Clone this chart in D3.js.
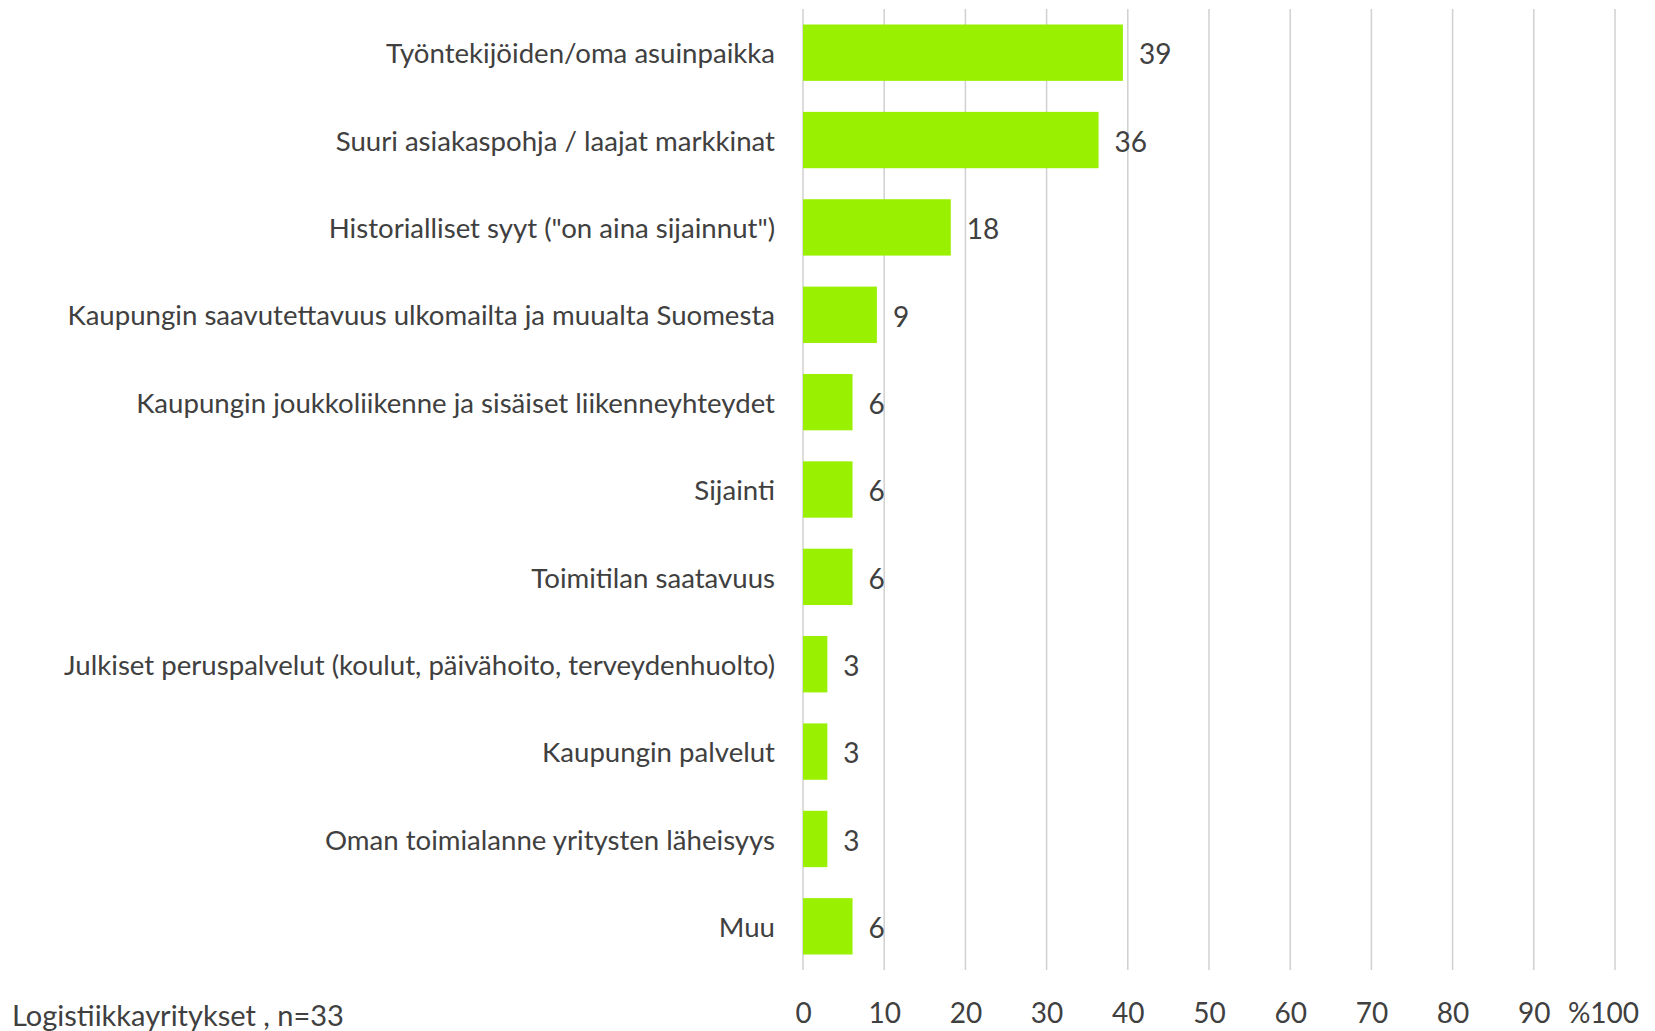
<!DOCTYPE html>
<html><head><meta charset="utf-8">
<script src="https://cdn.jsdelivr.net/npm/d3@7"></script>
<style>html,body{margin:0;padding:0;background:#fff;}svg{display:block;}</style>
</head><body>
<svg id="chart" width="1655" height="1031"></svg>
<script>
const categories = [
  "Työntekijöiden/oma asuinpaikka",
  "Suuri asiakaspohja / laajat markkinat",
  "Historialliset syyt (\"on aina sijainnut\")",
  "Kaupungin saavutettavuus ulkomailta ja muualta Suomesta",
  "Kaupungin joukkoliikenne ja sisäiset liikenneyhteydet",
  "Sijainti",
  "Toimitilan saatavuus",
  "Julkiset peruspalvelut (koulut, päivähoito, terveydenhuolto)",
  "Kaupungin palvelut",
  "Oman toimialanne yritysten läheisyys",
  "Muu"
];
const values = [39.4, 36.4, 18.2, 9.1, 6.1, 6.1, 6.1, 3.0, 3.0, 3.0, 6.1];
const valueLabels = ["39","36","18","9","6","6","6","3","3","3","6"];
const tickValues = [0,10,20,30,40,50,60,70,80,90,100];
const tickLabels = ["0","10","20","30","40","50","60","70","80","90","%100"];
const footnote = "Logistiikkayritykset , n=33";

const svg = d3.select("#chart");
const font = "Lato, 'Open Sans', sans-serif";
const textColor = "#404040";

const x = d3.scaleLinear().domain([0,100]).range([803,1615]);
const y = d3.scaleBand().domain(categories).range([9,970]).paddingInner(0.355).paddingOuter(0.1775);

// gridlines
svg.append("g").selectAll("line").data(tickValues).join("line")
  .attr("x1", d=>x(d)).attr("x2", d=>x(d))
  .attr("y1", 9).attr("y2", 970)
  .attr("stroke", "#d0d0d0").attr("stroke-width", 1.5);

// bars
svg.append("g").selectAll("rect").data(values).join("rect")
  .attr("x", x(0)).attr("y", (d,i)=>y(categories[i]))
  .attr("width", d=>x(d)-x(0)).attr("height", y.bandwidth())
  .attr("fill", "#99f000");

// value labels
svg.append("g").selectAll("text").data(values).join("text")
  .attr("x", d=>x(d)+16).attr("y", (d,i)=>y(categories[i])+y.bandwidth()/2 + 2)
  .attr("dy","0.35em")
  .attr("font-family", font).attr("font-size", 28).attr("fill", textColor)
  .text((d,i)=>valueLabels[i]);

// category labels
svg.append("g").selectAll("text").data(categories).join("text")
  .attr("x", 775).attr("y", d=>y(d)+y.bandwidth()/2 + 1)
  .attr("dy","0.35em").attr("text-anchor","end")
  .attr("font-family", font).attr("font-size", 27.6).attr("fill", textColor)
  .text(d=>d);

// x axis tick labels
const axis = d3.axisBottom(x).tickValues(tickValues).tickSize(0).tickFormat((d,i)=>tickLabels[i]);
const gx = svg.append("g").attr("transform","translate(0,1000)").call(axis);
gx.select(".domain").remove();
gx.selectAll("text").attr("font-family", font).attr("font-size", 28).attr("fill", textColor)
  .attr("dx", (d)=> d===100 ? -12 : 0);

// footnote
svg.append("text").attr("x", 12).attr("y", 1026)
  .attr("font-family", font).attr("font-size", 29).attr("fill", textColor)
  .text(footnote);
</script>
</body></html>
